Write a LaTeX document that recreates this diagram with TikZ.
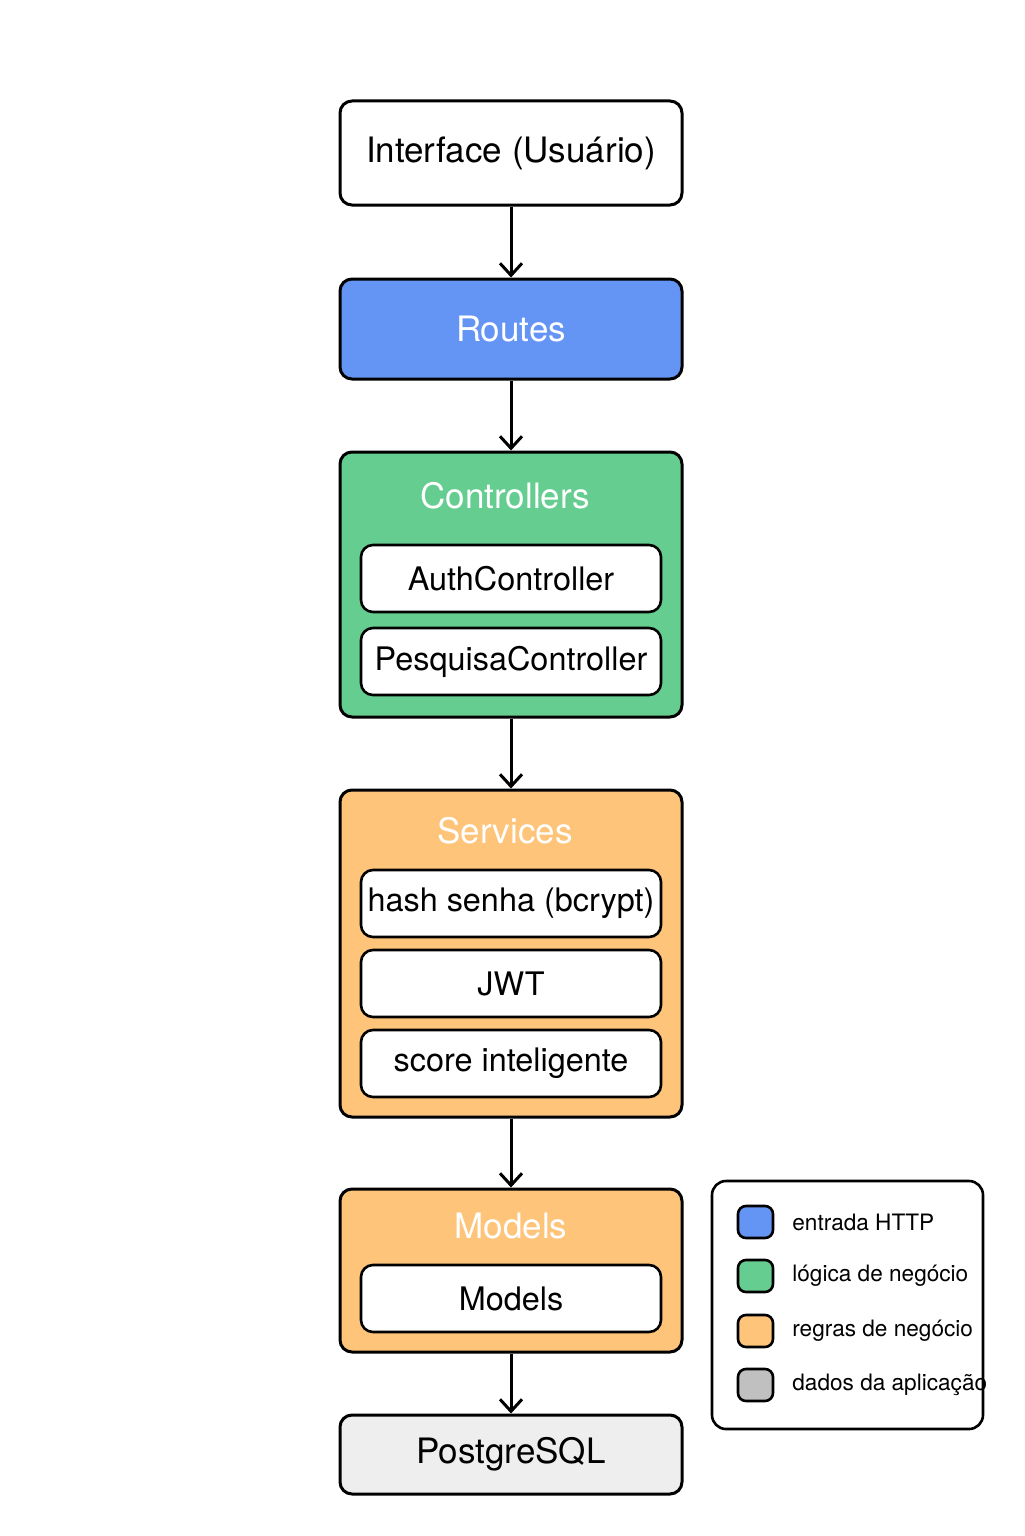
\documentclass[tikz,border=0pt]{standalone}
\usepackage{fontspec}
\setmainfont{TeX Gyre Heros}
\usetikzlibrary{arrows.meta}
\definecolor{cblue}{HTML}{6495F5}
\definecolor{cgreen}{HTML}{66CD91}
\definecolor{corange}{HTML}{FDC47A}
\definecolor{cgray}{HTML}{EEEEEE}
\definecolor{clgray}{HTML}{C0C0C0}
\tikzset{
  layer/.style={draw=black, line width=1.5pt, rounded corners=6pt, minimum width=171pt, inner sep=0pt, font=\fontsize{17.5}{20}\selectfont},
  inner/.style={draw=black, line width=1.3pt, rounded corners=6pt, fill=white, minimum width=150pt, minimum height=33.5pt, inner sep=0pt, font=\fontsize{16.2}{19}\selectfont},
  ttl/.style={text=white, font=\fontsize{17.5}{20}\selectfont, inner sep=0pt},
  sw/.style={draw=black, line width=1.3pt, rounded corners=4pt, minimum width=17.5pt, minimum height=16pt, inner sep=0pt},
  ltxt/.style={anchor=west, inner sep=0pt, font=\fontsize{11.3}{14}\selectfont},
  arr/.style={-{Straight Barb[length=6pt,width=11pt,line width=1.5pt]}, line width=1.5pt}
}
\begin{document}
\begin{tikzpicture}[x=0.5pt,y=-0.5pt]
\useasboundingbox[fill=white] (0,0) rectangle (1024,1536);
% layers
\node[layer, fill=white, minimum height=52pt] (ui) at (511,153) {Interface (Usuário)};
\node[layer, fill=cblue, text=white, minimum height=50pt] (routes) at (511,329) {Routes};
\node[layer, fill=cgreen, minimum height=132.5pt] (ctrl) at (511,584.5) {};
\node[layer, fill=corange, minimum height=163.5pt] (serv) at (511,953.5) {};
\node[layer, fill=corange, minimum height=81.5pt] (models) at (511,1270.5) {};
\node[layer, fill=cgray, minimum height=39.5pt] (pg) at (511,1454.5) {PostgreSQL};
% titles
\node[ttl] (ctrlt) at (505,496) {Controllers};
\node[ttl] (servt) at (505,831) {Services};
\node[ttl] (modelst) at (511,1226) {Models};
% inner boxes
\node[inner] (auth) at (511,578.5) {AuthController};
\node[inner] (pesq) at (511,661.5) {PesquisaController};
\node[inner] (hash) at (511,903.5) {hash senha (bcrypt)};
\node[inner] (jwt) at (511,983.5) {JWT};
\node[inner] (score) at (511,1063.5) {score inteligente};
\node[inner] (modin) at (511,1298.5) {Models};
% arrows
\draw[arr] (ui) -- (routes);
\draw[arr] (routes) -- (ctrl);
\draw[arr] (ctrl) -- (serv);
\draw[arr] (serv) -- (models);
\draw[arr] (models) -- (pg);
% legend
\node[draw=black, line width=1.3pt, rounded corners=7pt, fill=white, minimum width=135.5pt, minimum height=124pt, inner sep=0pt] (leg) at (847.5,1305) {};
\node[sw, fill=cblue] (s1) at (755.5,1222) {};
\node[sw, fill=cgreen] (s2) at (755.5,1276) {};
\node[sw, fill=corange] (s3) at (755.5,1331) {};
\node[sw, fill=clgray] (s4) at (755.5,1385) {};
\node[ltxt] (l1) at (792,1222) {entrada HTTP};
\node[ltxt] (l2) at (792,1276) {lógica de negócio};
\node[ltxt] (l3) at (792,1331) {regras de negócio};
\node[ltxt] (l4) at (792,1385) {dados da aplicação};
\end{tikzpicture}
\end{document}
